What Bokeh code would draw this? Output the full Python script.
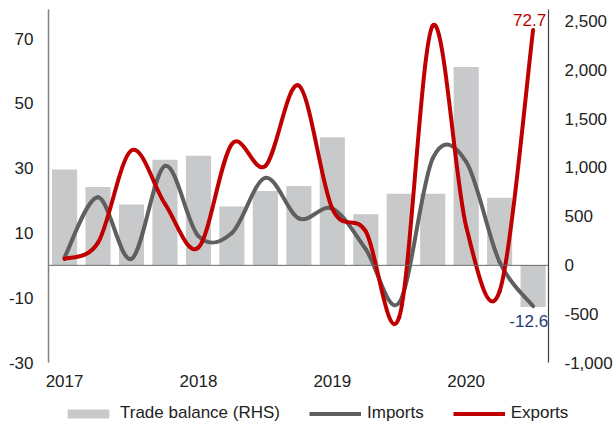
from bokeh.plotting import figure
from bokeh.layouts import column
from bokeh.models import (Range1d, LinearAxis, FixedTicker, Span, Legend, LegendItem,
                          Label, ColumnDataSource, NumeralTickFormatter)
from bokeh.embed import file_html
from bokeh.resources import INLINE

# ---- data (quarterly, 2017Q1 .. 2020Q3) ----
quarters = ["2017Q1", "2017Q2", "2017Q3", "2017Q4",
            "2018Q1", "2018Q2", "2018Q3", "2018Q4",
            "2019Q1", "2019Q2", "2019Q3", "2019Q4",
            "2020Q1", "2020Q2", "2020Q3"]
year_labels = ["2017", "2018", "2019", "2020"]
trade_balance = [980, 800, 620, 1080, 1120, 600, 760, 810, 1310, 520, 730, 730, 2030, 690, -430]
imports = [2.5, 21, 2, 30.7, 9, 10, 27, 14.5, 17.5, 5, -11.5, 33, 32, 1, -12.6]
exports = [2, 7, 35.5, 19, 5.5, 37.5, 30.7, 55.5, 17.5, 10.5, -16, 74, 12, -8, 72.7]
series_names = ["Trade balance (RHS)", "Imports", "Exports"]

left_ticks = [-30, -10, 10, 30, 50, 70]
right_ticks = [-1000, -500, 0, 500, 1000, 1500, 2000, 2500]

FONT = "Liberation Sans"
TXT = "#222222"
GRAY_BAR = "#c8c9cb"
GRAY_LINE = "#5f5f5f"
RED = "#c00000"
NAVY = "#1f3b78"
NAN = float("nan")

xs = list(range(len(quarters)))


def smooth_segments(xv, yv):
    """Control points of cubic Bezier pieces passing through each data point."""
    n = len(xv)
    seg = dict(x0=[], y0=[], x1=[], y1=[], cx0=[], cy0=[], cx1=[], cy1=[])
    for i in range(n - 1):
        a = i - 1 if i > 0 else i
        d = i + 2 if i + 2 < n else i + 1
        seg["x0"].append(xv[i]); seg["y0"].append(yv[i])
        seg["x1"].append(xv[i + 1]); seg["y1"].append(yv[i + 1])
        seg["cx0"].append(xv[i] + (xv[i + 1] - xv[a]) / 6.0)
        seg["cy0"].append(yv[i] + (yv[i + 1] - yv[a]) / 6.0)
        seg["cx1"].append(xv[i + 1] - (xv[d] - xv[i]) / 6.0)
        seg["cy1"].append(yv[i + 1] - (yv[d] - yv[i]) / 6.0)
    return ColumnDataSource(seg)


p = figure(width=615, height=394, output_backend="svg", toolbar_location=None,
           x_range=Range1d(-0.48, 14.46), y_range=Range1d(-30, 79),
           min_border_left=48, min_border_right=65, min_border_top=9, min_border_bottom=32)
p.extra_y_ranges = {"rhs": Range1d(-1000, 2620)}
p.outline_line_color = None
p.xgrid.visible = False
p.ygrid.visible = False
p.background_fill_color = "white"
p.border_fill_color = "white"

# bottom axis
xa = p.xaxis[0]
xa.ticker = FixedTicker(ticks=[i * 4 for i in range(len(year_labels))])
xa.major_label_overrides = {i * 4: lab for i, lab in enumerate(year_labels)}
xa.axis_line_color = None
xa.major_tick_line_color = None
xa.minor_tick_line_color = None
xa.major_tick_out = 0
xa.major_label_standoff = 12
xa.major_label_text_font = FONT
xa.major_label_text_font_size = "17px"
xa.major_label_text_color = TXT

# left axis
ya = p.yaxis[0]
ya.ticker = FixedTicker(ticks=left_ticks)
ya.formatter = NumeralTickFormatter(format="0")
ya.axis_line_color = "#808080"
ya.axis_line_width = 1.5
ya.major_tick_line_color = None
ya.minor_tick_line_color = None
ya.major_tick_out = 0
ya.major_label_standoff = 15
ya.major_label_text_font = FONT
ya.major_label_text_font_size = "17px"
ya.major_label_text_color = TXT

# right axis
ra = LinearAxis(y_range_name="rhs", ticker=FixedTicker(ticks=right_ticks),
                formatter=NumeralTickFormatter(format="0,0"))
ra.axis_line_color = "#404040"
ra.axis_line_width = 1.2
ra.major_tick_line_color = None
ra.minor_tick_line_color = None
ra.major_tick_out = 0
ra.major_label_standoff = 16
ra.major_label_text_font = FONT
ra.major_label_text_font_size = "17px"
ra.major_label_text_color = TXT
p.add_layout(ra, "right")

bars = p.vbar(x=xs, top=trade_balance, bottom=0, width=0.75, y_range_name="rhs",
              fill_color=GRAY_BAR, line_color=None)

zero = Span(location=0, dimension="width", line_color="#6a6a6a", line_width=1, level="glyph")
p.add_layout(zero)

imp_r = p.bezier(x0="x0", y0="y0", x1="x1", y1="y1", cx0="cx0", cy0="cy0", cx1="cx1", cy1="cy1",
                 source=smooth_segments(xs, imports), line_color=GRAY_LINE, line_width=4,
                 line_cap="round")
exp_r = p.bezier(x0="x0", y0="y0", x1="x1", y1="y1", cx0="cx0", cy0="cy0", cx1="cx1", cy1="cy1",
                 source=smooth_segments(xs, exports), line_color=RED, line_width=4,
                 line_cap="round")

p.add_layout(Label(x=xs[-1], y=exports[-1], text=f"{exports[-1]:.1f}", x_offset=13, y_offset=10,
                   text_align="right", text_baseline="middle", text_color=RED,
                   text_font=FONT, text_font_size="17px"))
p.add_layout(Label(x=xs[-1], y=imports[-1], text=f"{imports[-1]:.1f}", x_offset=15, y_offset=-14.5,
                   text_align="right", text_baseline="middle", text_color=NAVY,
                   text_font=FONT, text_font_size="17px"))

# ---- legend strip (separate small figure under the chart, no axes) ----
lg = figure(width=615, height=29, output_backend="svg", toolbar_location=None,
            x_range=Range1d(0, 1), y_range=Range1d(0, 1),
            x_axis_location=None, y_axis_location=None,
            min_border_left=0, min_border_right=0, min_border_top=0, min_border_bottom=0)
lg.xgrid.visible = False
lg.ygrid.visible = False
lg.outline_line_color = None
lg.border_fill_color = "white"

# keep each figure's frame independent of the other one
try:
    p.frame_align = False
    lg.frame_align = False
    legend_loc, legend_spacing = (62, 0), 29
except AttributeError:
    lg.min_border_left = 48
    lg.min_border_right = 65
    legend_loc, legend_spacing = (8, 0), 24

lg_bar = lg.vbar(x=[NAN], top=[NAN], width=0.75, fill_color=GRAY_BAR, line_color=None)
lg_imp = lg.line(x=[NAN], y=[NAN], line_color=GRAY_LINE, line_width=4)
lg_exp = lg.line(x=[NAN], y=[NAN], line_color=RED, line_width=4)

legend = Legend(items=[LegendItem(label=series_names[0], renderers=[lg_bar]),
                       LegendItem(label=series_names[1], renderers=[lg_imp]),
                       LegendItem(label=series_names[2], renderers=[lg_exp])],
                orientation="horizontal", location=legend_loc,
                glyph_width=52, glyph_height=11, label_standoff=6, spacing=legend_spacing,
                padding=0, margin=0, border_line_color=None, background_fill_alpha=0,
                label_text_font=FONT, label_text_font_size="17px", label_text_color=TXT)
lg.add_layout(legend)

layout = column(p, lg, spacing=0)
open("out.html", "w").write(file_html(layout, INLINE))
